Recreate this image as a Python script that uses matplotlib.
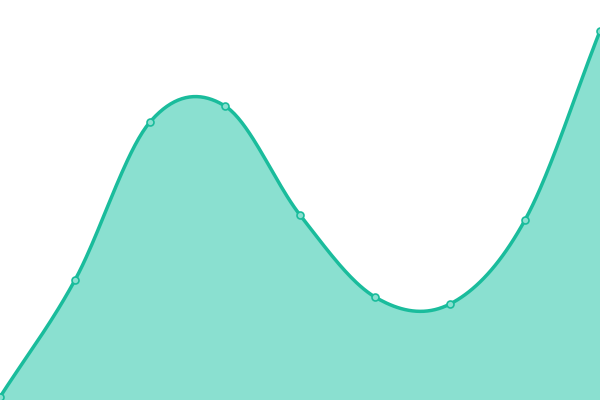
import numpy as np
import matplotlib.pyplot as plt

# values (0 = bottom edge, 400 = top edge)
x_idx = [0, 1, 2, 3, 4, 5, 6, 7, 8]
values = [3, 120, 278, 294, 185, 103, 96, 180, 369]

line_color = '#1abc9c'
fill_color = '#8ae0d0'


def catmull_rom(xs, ys, n=40):
    # smooth curve through the points (uniform Catmull-Rom)
    xs = np.asarray(xs, dtype=float)
    ys = np.asarray(ys, dtype=float)
    px = np.concatenate([[2 * xs[0] - xs[1]], xs, [2 * xs[-1] - xs[-2]]])
    py = np.concatenate([[2 * ys[0] - ys[1]], ys, [2 * ys[-1] - ys[-2]]])
    out_x, out_y = [], []
    t = np.linspace(0, 1, n, endpoint=False)
    for i in range(1, len(px) - 2):
        m0x = (px[i + 1] - px[i - 1]) / 2
        m1x = (px[i + 2] - px[i]) / 2
        m0y = (py[i + 1] - py[i - 1]) / 2
        m1y = (py[i + 2] - py[i]) / 2
        h00 = 2 * t**3 - 3 * t**2 + 1
        h10 = t**3 - 2 * t**2 + t
        h01 = -2 * t**3 + 3 * t**2
        h11 = t**3 - t**2
        out_x.append(h00 * px[i] + h10 * m0x + h01 * px[i + 1] + h11 * m1x)
        out_y.append(h00 * py[i] + h10 * m0y + h01 * py[i + 1] + h11 * m1y)
    out_x.append([xs[-1]])
    out_y.append([ys[-1]])
    return np.concatenate(out_x), np.concatenate(out_y)


fig = plt.figure(figsize=(6, 4), dpi=100)
ax = fig.add_axes([0, 0, 1, 1])

sx, sy = catmull_rom(x_idx, values)
ax.fill_between(sx, 0, sy, color=fill_color, linewidth=0)
ax.plot(sx, sy, color=line_color, linewidth=2.5, solid_capstyle='round')
ax.plot(x_idx, values, 'o', markersize=5, markerfacecolor='#8ae0d0',
        markeredgecolor=line_color, markeredgewidth=1.2, clip_on=False)

ax.set_xlim(0, 8)
ax.set_ylim(0, 400)
ax.axis('off')

fig.savefig('out.png', dpi=100)
